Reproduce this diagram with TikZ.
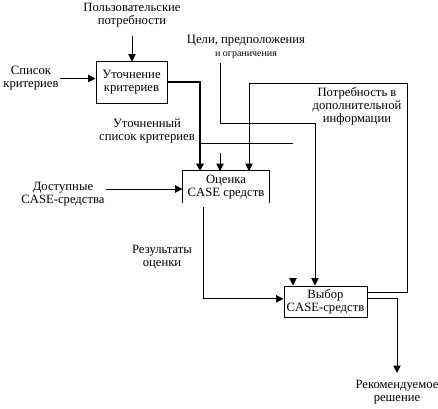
\documentclass[tikz,border=0pt]{standalone}
\usepackage{fontspec}
\setmainfont{Liberation Serif}
\usetikzlibrary{arrows.meta,positioning}

\begin{document}
\begin{tikzpicture}[
  x=0.75pt, y=-0.75pt,
  line width=0.7pt,
  box/.style={rectangle, draw, align=center, inner sep=0pt, font=\fontsize{9.5}{9.75}\selectfont},
  lbl/.style={align=center, inner sep=0pt, font=\fontsize{9.5}{9.75}\selectfont},
  arr/.style={-{Triangle[length=5.5pt,width=5.5pt]}}
]
\useasboundingbox (0,0) rectangle (438,409);

% blocks
\node[box, minimum width=53.3pt, minimum height=30.8pt] (utoch) at (131.5,82.5) {Уточнение\\критериев};
\node[box, draw=none, minimum width=64.5pt, minimum height=24pt] (ocenka) at (226,187) {Оценка\\CASE средств};
\node[box, minimum width=62.3pt, minimum height=23.3pt] (vybor) at (325.5,301.5) {Выбор\\CASE-средств};
\draw (ocenka.south west) -- (ocenka.north west) -- (ocenka.north east) -- (ocenka.south east);

% labels
\node[lbl] (potreb) at (132,15.5) {Пользовательские\\потребности};
\node[lbl] (spisok) at (31,78.5) {Список\\критериев};
\node[lbl] (celi) at (246,47) {Цели, предположения\\{\fontsize{7.5}{8}\selectfont и ограничения}};
\node[lbl] (utsp) at (147,131) {Уточненный\\список критериев};
\node[lbl] (dopinfo) at (357,106) {Потребность в\\дополнительной\\информации};
\node[lbl] (dostup) at (63,194) {Доступные\\CASE-средства};
\node[lbl] (rezult) at (162,257) {Результаты\\оценки};
\node[lbl] (rekom) at (397,392) {Рекомендуемое\\решение};

% free ends
\coordinate (in1) at (200,171);
\coordinate (in2) at (220,171);
\coordinate (in3) at (249,171);
\coordinate (stub1) at (220,153);
\coordinate (razv) at (200,143);
\coordinate (razvEnd) at (293,143);
\coordinate (c1) at (220,63);
\coordinate (c2) at (315,123);
\coordinate (fb) at (407,83);
\coordinate (out) at (397,373);
\coordinate (stub2) at (293,278);

% arrows
\draw[arr, shorten <=6pt] (potreb.south) -- (potreb.south |- utoch.north);
\draw[arr] ([xshift=1pt]spisok.east) -- (spisok.east -| utoch.west);
\draw[arr, line width=1.5pt] (utoch.east) -| (in1);
\draw (razv) -- (razvEnd);
\draw[arr] (stub1) -- (in2);
\draw[arr] (c1) |- (c2) -- (c2 |- vybor.north);
\draw[arr] ([yshift=7pt]vybor.east) -| (fb) -| (in3);
\draw[arr] ([xshift=1pt,yshift=3.75pt]dostup.east) -- ([yshift=3.75pt]dostup.east -| ocenka.west);
\draw[arr, shorten <=3pt] ([xshift=15.75pt]ocenka.south west) |- ([yshift=2pt]vybor.west);
\draw[arr] (stub2) -- (stub2 |- vybor.north);
\draw[arr] ([yshift=2.6pt]vybor.east) -| (out);
\end{tikzpicture}
\end{document}
